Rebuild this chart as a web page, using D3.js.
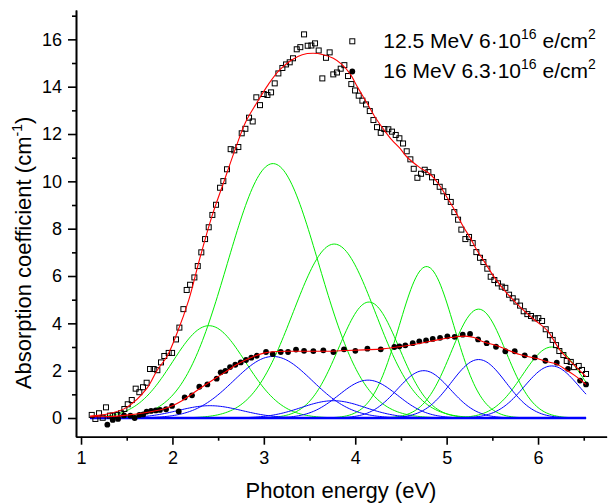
<!DOCTYPE html>
<html>
<head>
<meta charset="utf-8">
<script src="https://d3js.org/d3.v7.min.js"></script>
<style>
  body { margin: 0; background: #fff; }
  text { font-family: Arial, "Liberation Sans", sans-serif; fill: #000; }
</style>
</head>
<body>
<script>
// measured points, 12.5 MeV 6e16 (open squares)
var squares = [
  [1.117,0.13],[1.157,-0.04],[1.197,0.20],[1.237,0.01],[1.273,0.45],[1.317,0.10],[1.347,0.10],[1.397,0.13],
  [1.438,0.20],[1.474,0.38],[1.511,0.58],[1.555,0.76],[1.598,1.24],[1.638,1.09],[1.678,1.30],[1.718,1.49],
  [1.755,2.07],[1.795,2.07],[1.835,2.02],[1.875,2.35],[1.911,2.62],[1.959,2.75],[1.996,2.75],[2.039,3.32],
  [2.076,3.82],[2.120,4.60],[2.156,5.41],[2.193,5.63],[2.240,5.94],[2.277,6.42],[2.316,7.00],[2.357,7.56],
  [2.397,8.06],[2.437,8.58],[2.477,9.01],[2.521,9.73],[2.557,10.01],[2.597,10.51],[2.637,11.36],[2.677,11.31],
  [2.721,11.45],[2.758,12.03],[2.798,12.22],[2.838,12.69],[2.878,12.53],[2.918,13.55],[2.958,13.22],[2.999,13.69],
  [3.039,13.65],[3.079,13.76],[3.119,14.14],[3.159,14.56],[3.203,14.79],[3.243,14.94],[3.283,15.03],[3.319,15.20],
  [3.360,15.58],[3.399,15.67],[3.440,16.21],[3.480,15.73],[3.520,15.74],[3.560,15.83],[3.600,15.53],[3.640,14.35],
  [3.680,15.22],[3.720,15.45],[3.760,14.52],[3.800,14.60],[3.841,14.76],[3.881,14.91],[3.921,14.45],[3.957,14.11],
  [3.998,13.84],[4.038,13.62],[4.078,13.41],[4.118,13.25],[4.159,12.97],[4.199,12.59],[4.238,12.29],[4.279,12.05],
  [4.318,12.21],[4.362,12.20],[4.402,12.10],[4.443,11.96],[4.483,11.82],[4.523,11.60],[4.563,11.27],[4.603,10.93],
  [4.640,10.53],[4.680,10.15],[4.720,10.32],[4.760,10.49],[4.800,10.39],[4.840,10.17],[4.884,9.97],[4.924,9.77],
  [4.964,9.58],[5.004,9.34],[5.045,9.13],[5.084,8.70],[5.125,8.38],[5.161,7.96],[5.205,7.56],[5.245,7.65],
  [5.285,7.39],[5.325,7.01],[5.365,6.77],[5.402,6.59],[5.445,6.31],[5.482,5.97],[5.522,5.83],[5.562,5.69],
  [5.603,5.55],[5.642,5.50],[5.683,5.21],[5.723,5.06],[5.763,4.92],[5.803,4.75],[5.843,4.51],[5.883,4.39],
  [5.923,4.31],[5.964,4.21],[6.003,4.22],[6.044,4.10],[6.084,3.75],[6.130,3.50],[6.160,3.30],[6.197,3.08],
  [6.233,2.83],[6.277,2.66],[6.314,2.41],[6.358,2.37],[6.394,2.15],[6.445,2.20],[6.481,2.03],[6.525,1.86]
];

// measured points, 16 MeV 6.3e16 (filled circles)
var circles = [
  [1.288,-0.28],[1.347,-0.08],[1.405,-0.04],[1.470,0.11],[1.540,0.10],[1.587,0.00],[1.638,0.13],[1.680,0.15],
  [1.718,0.27],[1.766,0.30],[1.817,0.32],[1.864,0.34],[1.930,0.37],[1.996,0.51],[2.069,0.28],[2.134,0.87],
  [2.214,0.96],[2.294,1.32],[2.382,1.42],[2.484,1.66],[2.528,1.93],[2.579,1.99],[2.630,2.15],[2.688,2.25],
  [2.747,2.35],[2.805,2.45],[2.863,2.55],[2.922,2.63],[3.024,2.79],[3.097,2.70],[3.185,2.79],[3.265,2.79],
  [3.352,2.89],[3.440,2.84],[3.542,2.83],[3.651,2.86],[3.761,2.79],[3.877,2.90],[4.001,2.84],[4.133,2.93],
  [4.279,2.90],[4.428,3.00],[4.483,3.03],[4.548,3.07],[4.629,3.16],[4.701,3.24],[4.775,3.28],[4.848,3.34],
  [4.928,3.39],[5.008,3.45],[5.088,3.43],[5.176,3.52],[5.256,3.55],[5.344,3.32],[5.438,3.16],[5.540,3.01],
  [5.642,2.82],[5.745,2.82],[5.854,2.65],[5.964,2.56],[6.080,2.42],[6.205,2.34],[6.328,2.08],[6.460,1.58],
  [6.525,1.42]
];

// cumulative fit curves (red)
var fitSquares = [
  [1.10,0.08],[1.30,0.18],[1.50,0.45],[1.72,1.25],[1.83,2.0],[1.94,2.6],[2.05,3.58],[2.18,5.0],
  [2.30,6.75],[2.43,8.5],[2.56,9.95],[2.70,11.5],[2.80,12.5],[2.92,13.3],[3.05,14.1],[3.17,14.7],
  [3.30,15.12],[3.42,15.35],[3.54,15.41],[3.65,15.35],[3.76,15.2],[3.85,14.95],[3.94,14.56],[4.03,13.95],
  [4.13,13.3],[4.22,12.7],[4.31,12.2],[4.40,11.75],[4.49,11.39],[4.56,11.05],[4.70,10.6],[4.82,10.3],
  [4.91,9.9],[5.00,9.35],[5.10,8.7],[5.18,8.1],[5.26,7.6],[5.33,7.1],[5.40,6.68],[5.53,5.9],
  [5.66,5.27],[5.75,4.9],[5.84,4.56],[5.96,4.15],[6.10,3.7],[6.24,2.87],[6.38,2.3],[6.525,1.75]
];
var fitCircles = [
  [1.10,0.05],[1.30,0.06],[1.50,0.12],[1.70,0.22],[1.90,0.38],[2.00,0.52],[2.10,0.72],[2.20,0.98],
  [2.30,1.25],[2.40,1.5],[2.50,1.75],[2.60,2.0],[2.70,2.25],[2.80,2.45],[2.90,2.62],[3.00,2.74],
  [3.10,2.80],[3.30,2.82],[3.50,2.82],[3.70,2.82],[3.90,2.85],[4.10,2.88],[4.30,2.92],[4.50,3.02],
  [4.70,3.15],[4.90,3.3],[5.05,3.4],[5.20,3.46],[5.30,3.4],[5.40,3.22],[5.55,3.05],[5.80,2.68],
  [6.00,2.5],[6.10,2.38],[6.20,2.28],[6.31,2.03],[6.40,1.8],[6.525,1.42]
];

// gaussian components: centre (eV), height (cm-1), sigma (eV)
var greenCentres = [2.40, 3.10, 3.77, 4.15, 4.78, 5.35, 6.15];
var greenHeights = [3.9, 10.75, 7.35, 4.9, 6.4, 4.6, 3.0];
var greenSigmas  = [0.40, 0.50, 0.45, 0.33, 0.30, 0.30, 0.32];

var blueCentres = [2.41, 3.10, 3.76, 4.14, 4.75, 5.35, 6.15];
var blueHeights = [0.52, 2.6, 0.73, 1.6, 2.0, 2.47, 2.2];
var blueSigmas  = [0.35, 0.43, 0.35, 0.32, 0.29, 0.30, 0.30];

var fitRange = [1.10, 6.525];
var baseline = 0;

var xTicks = [1, 2, 3, 4, 5, 6];
var xMinor = [1.5, 2.5, 3.5, 4.5, 5.5, 6.5];
var yTicks = [0, 2, 4, 6, 8, 10, 12, 14, 16];
var yMinor = [1, 3, 5, 7, 9, 11, 13, 15, 17];

var w = 616, h = 504;

var xScale = d3.scaleLinear().domain([0.945, 6.75]).range([76, 606.6]);
var yScale = d3.scaleLinear().domain([-0.79, 17.24]).range([436.7, 10]);

var svg = d3.select("body").append("svg")
    .attr("width", w)
    .attr("height", h);

// sample a gaussian on the fit range
function gaussPoints(c, a, s) {
    var pts = [];
    var n = 300;
    for (var i = 0; i <= n; i++) {
        var x = fitRange[0] + (fitRange[1] - fitRange[0]) * i / n;
        pts.push([x, a * Math.exp(-(x - c) * (x - c) / (2 * s * s))]);
    }
    return pts;
}

var line = d3.line()
    .x(function(d) { return xScale(d[0]); })
    .y(function(d) { return yScale(d[1]); });

var smooth = d3.line()
    .x(function(d) { return xScale(d[0]); })
    .y(function(d) { return yScale(d[1]); })
    .curve(d3.curveCatmullRom.alpha(0.5));

// green components
greenCentres.forEach(function(c, i) {
    svg.append("path")
       .attr("d", line(gaussPoints(c, greenHeights[i], greenSigmas[i])))
       .attr("fill", "none")
       .attr("stroke", "#00ee00")
       .attr("stroke-width", 1);
});

// blue components
blueCentres.forEach(function(c, i) {
    svg.append("path")
       .attr("d", line(gaussPoints(c, blueHeights[i], blueSigmas[i])))
       .attr("fill", "none")
       .attr("stroke", "#0000ff")
       .attr("stroke-width", 1);
});

// baseline of the component fit
svg.append("path")
   .attr("d", line([[fitRange[0], baseline], [fitRange[1], baseline]]))
   .attr("stroke", "#0000ff")
   .attr("stroke-width", 2.5);

// data markers
svg.selectAll("rect.sq")
   .data(squares)
   .enter()
   .append("rect")
   .attr("class", "sq")
   .attr("x", function(d) { return xScale(d[0]) - 2.5; })
   .attr("y", function(d) { return yScale(d[1]) - 2.5; })
   .attr("width", 5)
   .attr("height", 5)
   .attr("fill", "none")
   .attr("stroke", "#000")
   .attr("stroke-width", 1);

svg.selectAll("circle.ci")
   .data(circles)
   .enter()
   .append("circle")
   .attr("class", "ci")
   .attr("cx", function(d) { return xScale(d[0]); })
   .attr("cy", function(d) { return yScale(d[1]); })
   .attr("r", 2.9)
   .attr("fill", "#000");

// red fits on top
[fitSquares, fitCircles].forEach(function(f) {
    svg.append("path")
       .attr("d", smooth(f))
       .attr("fill", "none")
       .attr("stroke", "#ff0000")
       .attr("stroke-width", 1.1);
});

// axes
var xAxis = d3.axisBottom(xScale).tickValues(xTicks).tickSize(8).tickSizeOuter(0).tickPadding(7)
    .tickFormat(d3.format("d"));
var xAxisMinor = d3.axisBottom(xScale).tickValues(xMinor).tickSize(4).tickSizeOuter(0).tickFormat("");
var yAxis = d3.axisLeft(yScale).tickValues(yTicks).tickSize(8).tickSizeOuter(0).tickPadding(6)
    .tickFormat(d3.format("d"));
var yAxisMinor = d3.axisLeft(yScale).tickValues(yMinor).tickSize(4).tickSizeOuter(0).tickFormat("");

function styleAxis(g) {
    g.selectAll("path, line").attr("stroke", "#000").attr("stroke-width", 1.6);
    g.selectAll("text").attr("font-size", "18px").attr("font-family", "Arial, 'Liberation Sans', sans-serif");
}

svg.append("g").attr("transform", "translate(0,436.7)").call(xAxisMinor).call(styleAxis);
svg.append("g").attr("transform", "translate(0,436.7)").call(xAxis).call(styleAxis);
svg.append("g").attr("transform", "translate(76,0)").call(yAxisMinor).call(styleAxis);
svg.append("g").attr("transform", "translate(76,0)").call(yAxis).call(styleAxis);

// axis titles
svg.append("text")
   .attr("x", 341)
   .attr("y", 498)
   .attr("text-anchor", "middle")
   .attr("font-size", "22px")
   .text("Photon energy (eV)");

var yt = svg.append("text")
   .attr("transform", "translate(31,253) rotate(-90)")
   .attr("text-anchor", "middle")
   .attr("font-size", "22px");
yt.append("tspan").text("Absorption coefficient (cm");
yt.append("tspan").attr("dy", -9).attr("font-size", "14px").text("-1");
yt.append("tspan").attr("dy", 9).text(")");

// legend
var legend = [
    {sym: "square", parts: ["12.5 MeV 6\u00b710", "16", " e/cm", "2"]},
    {sym: "circle", parts: ["16 MeV 6.3\u00b710", "16", " e/cm", "2"]}
];
legend.forEach(function(l, i) {
    var yb = 48.3 + i * 30;
    if (l.sym === "square") {
        svg.append("rect").attr("x", 349.8).attr("y", yb - 9.5).attr("width", 5).attr("height", 5)
           .attr("fill", "none").attr("stroke", "#000");
    } else {
        svg.append("circle").attr("cx", 352.3).attr("cy", yb - 6.8).attr("r", 2.9).attr("fill", "#000");
    }
    var t = svg.append("text").attr("x", 383.3).attr("y", yb).attr("font-size", "21px");
    t.append("tspan").text(l.parts[0]);
    t.append("tspan").attr("dy", -9).attr("font-size", "14px").text(l.parts[1]);
    t.append("tspan").attr("dy", 9).text(l.parts[2]);
    t.append("tspan").attr("dy", -9).attr("font-size", "14px").text(l.parts[3]);
});
</script>
</body>
</html>
